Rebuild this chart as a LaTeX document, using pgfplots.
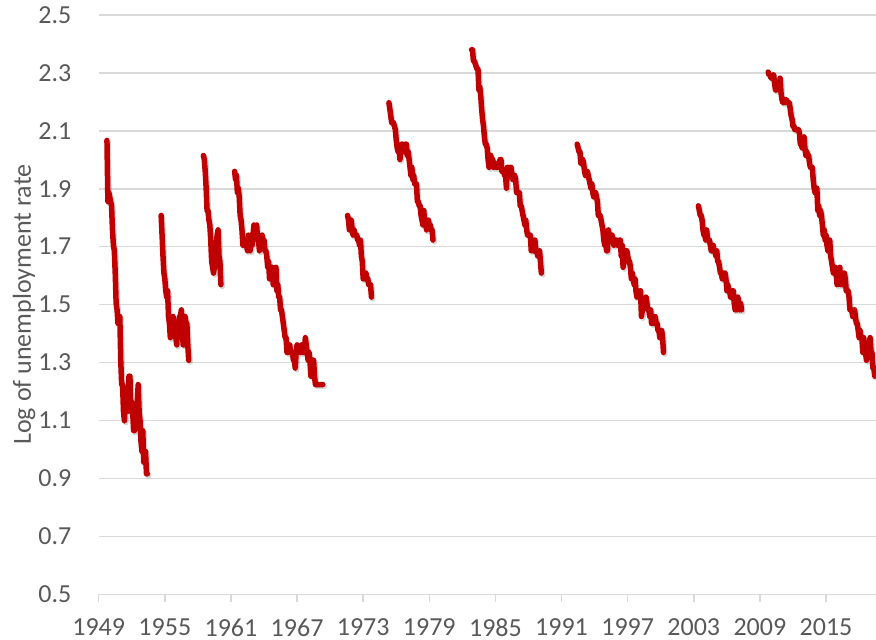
\documentclass[border=0pt]{standalone}
\usepackage{fontspec}
\setmainfont{Carlito}
\usepackage{pgfplots}
\pgfplotsset{compat=1.18}
\definecolor{txtgray}{HTML}{595959}
\definecolor{gridgray}{HTML}{D9D9D9}
\definecolor{darkred}{HTML}{C00000}
\pgfplotsset{ser/.style={darkred, line width=2.75pt, line join=round, line cap=round, no markers,
  preaction={draw=black, draw opacity=0.16, transform canvas={xshift=0.7pt,yshift=-0.9pt}}}}
\begin{document}
\begin{tikzpicture}
\begin{axis}[
  name=ax, scale only axis, width=388.65pt, height=289.65pt,
  xmin=0, xmax=846.4, ymin=0.5, ymax=2.5,
  xtick={0,72,144,216,288,360,432,504,576,648,720,792},
  xticklabels={1949,1955,1961,1967,1973,1979,1985,1991,1997,2003,2009,2015},
  ytick={0.5,0.7,0.9,1.1,1.3,1.5,1.7,1.9,2.1,2.3,2.5},
  yticklabels={0.5,0.7,0.9,1.1,1.3,1.5,1.7,1.9,2.1,2.3,2.5},
  axis x line*=bottom, axis y line*=left,
  y axis line style={draw=none},
  x axis line style={gridgray, line width=0.75pt},
  xtick style={gridgray, line width=0.75pt},
  ytick style={draw=none},
  tick align=outside, major tick length=4pt,
  ymajorgrids, grid style={gridgray, line width=0.75pt},
  ticklabel style={font=\fontsize{13}{15}\selectfont, text=txtgray},
  xticklabel style={inner sep=0pt, anchor=north, yshift=-8pt},
  yticklabel style={inner sep=0pt, anchor=east, xshift=-9.5pt},
  ylabel={Log of unemployment rate},
  ylabel style={font=\fontsize{13}{15}\selectfont, text=txtgray, at={(axis description cs:-0.0961,0.5)}, anchor=center},
  clip=true,
]
\addplot[ser] coordinates {(9,2.067)(10,1.856)(11,1.887)
(12,1.872)(13,1.856)(14,1.841)(15,1.758)(16,1.705)(17,1.686)(18,1.609)(19,1.504)(20,1.482)(21,1.435)(22,1.435)(23,1.459)
(24,1.308)(25,1.224)(26,1.224)(27,1.131)(28,1.099)(29,1.163)(30,1.131)(31,1.131)(32,1.194)(33,1.253)(34,1.253)(35,1.131)
(36,1.163)(37,1.131)(38,1.065)(39,1.065)(40,1.099)(41,1.099)(42,1.163)(43,1.224)(44,1.131)(45,1.099)(46,1.030)(47,0.993)
(48,1.065)(49,0.956)(50,0.956)(51,0.993)(52,0.916)(53,0.916)};
\addplot[ser] coordinates {(68,1.808)(69,1.740)(70,1.668)(71,1.609)
(72,1.589)(73,1.548)(74,1.526)(75,1.548)(76,1.459)(77,1.435)(78,1.386)(79,1.435)(80,1.411)(81,1.459)(82,1.435)(83,1.435)
(84,1.386)(85,1.361)(86,1.435)(87,1.386)(88,1.459)(89,1.459)(90,1.482)(91,1.411)(92,1.361)(93,1.361)(94,1.459)(95,1.435)
(96,1.435)(97,1.361)(98,1.308)};
\addplot[ser] coordinates {(114,2.015)(115,2.001)(116,1.960)(117,1.902)(118,1.825)(119,1.825)
(120,1.792)(121,1.775)(122,1.723)(123,1.649)(124,1.629)(125,1.609)(126,1.629)(127,1.649)(128,1.705)(129,1.740)(130,1.758)(131,1.668)
(132,1.649)(133,1.569)};
\addplot[ser] coordinates {(148,1.960)(149,1.932)(150,1.946)(151,1.887)(152,1.902)(153,1.872)(154,1.808)(155,1.792)
(156,1.758)(157,1.705)(158,1.723)(159,1.723)(160,1.705)(161,1.705)(162,1.686)(163,1.740)(164,1.723)(165,1.686)(166,1.740)(167,1.705)
(168,1.740)(169,1.775)(170,1.740)(171,1.740)(172,1.775)(173,1.723)(174,1.723)(175,1.686)(176,1.705)(177,1.705)(178,1.740)(179,1.705)
(180,1.723)(181,1.686)(182,1.686)(183,1.668)(184,1.629)(185,1.649)(186,1.589)(187,1.609)(188,1.629)(189,1.629)(190,1.569)(191,1.609)
(192,1.589)(193,1.629)(194,1.548)(195,1.569)(196,1.526)(197,1.526)(198,1.482)(199,1.482)(200,1.459)(201,1.435)(202,1.411)(203,1.386)
(204,1.386)(205,1.335)(206,1.335)(207,1.335)(208,1.361)(209,1.335)(210,1.335)(211,1.335)(212,1.308)(213,1.308)(214,1.281)(215,1.335)
(216,1.361)(217,1.335)(218,1.335)(219,1.335)(220,1.335)(221,1.361)(222,1.335)(223,1.335)(224,1.335)(225,1.386)(226,1.361)(227,1.335)
(228,1.308)(229,1.335)(230,1.308)(231,1.253)(232,1.253)(233,1.308)(234,1.308)(235,1.253)(236,1.224)(237,1.224)(238,1.224)(239,1.224)
(240,1.224)(241,1.224)(242,1.224)(243,1.224)(244,1.224)};
\addplot[ser] coordinates {(271,1.808)(272,1.792)(273,1.758)(274,1.792)(275,1.792)
(276,1.758)(277,1.740)(278,1.758)(279,1.740)(280,1.740)(281,1.740)(282,1.723)(283,1.723)(284,1.705)(285,1.723)(286,1.668)(287,1.649)
(288,1.589)(289,1.609)(290,1.589)(291,1.609)(292,1.589)(293,1.589)(294,1.569)(295,1.569)(296,1.569)(297,1.526)};
\addplot[ser] coordinates {(316,2.197)(317,2.175)(318,2.152)(319,2.128)(320,2.128)(321,2.128)(322,2.116)(323,2.104)
(324,2.067)(325,2.041)(326,2.028)(327,2.041)(328,2.001)(329,2.028)(330,2.054)(331,2.054)(332,2.028)(333,2.041)(334,2.054)(335,2.054)
(336,2.015)(337,2.028)(338,2.001)(339,1.974)(340,1.946)(341,1.974)(342,1.932)(343,1.946)(344,1.917)(345,1.917)(346,1.917)(347,1.856)
(348,1.856)(349,1.841)(350,1.841)(351,1.808)(352,1.792)(353,1.775)(354,1.825)(355,1.775)(356,1.792)(357,1.758)(358,1.775)(359,1.792)
(360,1.775)(361,1.775)(362,1.758)(363,1.758)(364,1.723)};
\addplot[ser] coordinates {(406,2.380)(407,2.380)
(408,2.342)(409,2.342)(410,2.332)(411,2.322)(412,2.313)(413,2.313)(414,2.241)(415,2.251)(416,2.219)(417,2.175)(418,2.140)(419,2.116)
(420,2.079)(421,2.054)(422,2.054)(423,2.041)(424,2.001)(425,1.974)(426,2.015)(427,2.015)(428,1.988)(429,2.001)(430,1.974)(431,1.988)
(432,1.988)(433,1.974)(434,1.974)(435,1.988)(436,1.974)(437,2.001)(438,2.001)(439,1.960)(440,1.960)(441,1.960)(442,1.946)(443,1.946)
(444,1.902)(445,1.974)(446,1.974)(447,1.960)(448,1.974)(449,1.974)(450,1.946)(451,1.932)(452,1.946)(453,1.946)(454,1.932)(455,1.887)
(456,1.887)(457,1.887)(458,1.887)(459,1.841)(460,1.841)(461,1.825)(462,1.808)(463,1.792)(464,1.775)(465,1.792)(466,1.758)(467,1.740)
(468,1.740)(469,1.740)(470,1.740)(471,1.686)(472,1.723)(473,1.686)(474,1.686)(475,1.723)(476,1.686)(477,1.686)(478,1.668)(479,1.668)
(480,1.686)(481,1.649)(482,1.609)};
\addplot[ser] coordinates {(521,2.054)(522,2.041)(523,2.028)(524,2.028)(525,1.988)(526,2.001)(527,2.001)
(528,1.988)(529,1.960)(530,1.946)(531,1.960)(532,1.960)(533,1.946)(534,1.932)(535,1.917)(536,1.902)(537,1.917)(538,1.887)(539,1.872)
(540,1.887)(541,1.887)(542,1.872)(543,1.856)(544,1.808)(545,1.808)(546,1.808)(547,1.792)(548,1.775)(549,1.758)(550,1.723)(551,1.705)
(552,1.723)(553,1.686)(554,1.686)(555,1.758)(556,1.723)(557,1.723)(558,1.740)(559,1.740)(560,1.723)(561,1.705)(562,1.723)(563,1.723)
(564,1.723)(565,1.705)(566,1.705)(567,1.723)(568,1.723)(569,1.668)(570,1.705)(571,1.629)(572,1.649)(573,1.649)(574,1.686)(575,1.686)
(576,1.668)(577,1.649)(578,1.649)(579,1.629)(580,1.589)(581,1.609)(582,1.589)(583,1.569)(584,1.589)(585,1.548)(586,1.526)(587,1.548)
(588,1.526)(589,1.526)(590,1.548)(591,1.459)(592,1.482)(593,1.504)(594,1.504)(595,1.504)(596,1.526)(597,1.504)(598,1.482)(599,1.482)
(600,1.459)(601,1.482)(602,1.435)(603,1.459)(604,1.435)(605,1.459)(606,1.459)(607,1.435)(608,1.435)(609,1.411)(610,1.411)(611,1.386)
(612,1.386)(613,1.411)(614,1.386)(615,1.335)};
\addplot[ser] coordinates {(653,1.841)(654,1.825)(655,1.808)(656,1.808)(657,1.792)(658,1.758)(659,1.740)
(660,1.740)(661,1.723)(662,1.758)(663,1.723)(664,1.723)(665,1.723)(666,1.705)(667,1.686)(668,1.686)(669,1.705)(670,1.686)(671,1.686)
(672,1.668)(673,1.686)(674,1.649)(675,1.649)(676,1.629)(677,1.609)(678,1.609)(679,1.589)(680,1.609)(681,1.609)(682,1.609)(683,1.589)
(684,1.548)(685,1.569)(686,1.548)(687,1.548)(688,1.526)(689,1.526)(690,1.548)(691,1.548)(692,1.504)(693,1.482)(694,1.504)(695,1.482)
(696,1.526)(697,1.504)(698,1.482)(699,1.504)(700,1.482)};
\addplot[ser] coordinates {(729,2.303)(730,2.293)(731,2.293)
(732,2.282)(733,2.282)(734,2.293)(735,2.293)(736,2.262)(737,2.241)(738,2.241)(739,2.251)(740,2.251)(741,2.241)(742,2.282)(743,2.230)
(744,2.208)(745,2.197)(746,2.197)(747,2.208)(748,2.197)(749,2.208)(750,2.197)(751,2.197)(752,2.197)(753,2.175)(754,2.152)(755,2.140)
(756,2.116)(757,2.116)(758,2.104)(759,2.104)(760,2.104)(761,2.104)(762,2.104)(763,2.092)(764,2.054)(765,2.054)(766,2.041)(767,2.067)
(768,2.079)(769,2.041)(770,2.015)(771,2.028)(772,2.015)(773,2.015)(774,1.988)(775,1.974)(776,1.974)(777,1.974)(778,1.932)(779,1.902)
(780,1.887)(781,1.902)(782,1.902)(783,1.825)(784,1.841)(785,1.808)(786,1.825)(787,1.808)(788,1.775)(789,1.740)(790,1.758)(791,1.723)
(792,1.740)(793,1.705)(794,1.686)(795,1.686)(796,1.723)(797,1.668)(798,1.649)(799,1.629)(800,1.609)(801,1.609)(802,1.629)(803,1.609)
(804,1.569)(805,1.589)(806,1.609)(807,1.629)(808,1.569)(809,1.589)(810,1.569)(811,1.589)(812,1.609)(813,1.589)(814,1.548)(815,1.548)
(816,1.548)(817,1.526)(818,1.482)(819,1.482)(820,1.482)(821,1.459)(822,1.459)(823,1.482)(824,1.459)(825,1.435)(826,1.435)(827,1.411)
(828,1.386)(829,1.411)(830,1.386)(831,1.386)(832,1.335)(833,1.386)(834,1.335)(835,1.335)(836,1.308)(837,1.335)(838,1.335)(839,1.361)
(840,1.386)(841,1.335)(842,1.335)(843,1.281)(844,1.281)(845,1.253)(846,1.281)};
\end{axis}
\pgfresetboundingbox
\path[use as bounding box] ([xshift=-49.35pt,yshift=-22.85pt]ax.south west) rectangle ([yshift=7.5pt]ax.north east);
\end{tikzpicture}
\end{document}
